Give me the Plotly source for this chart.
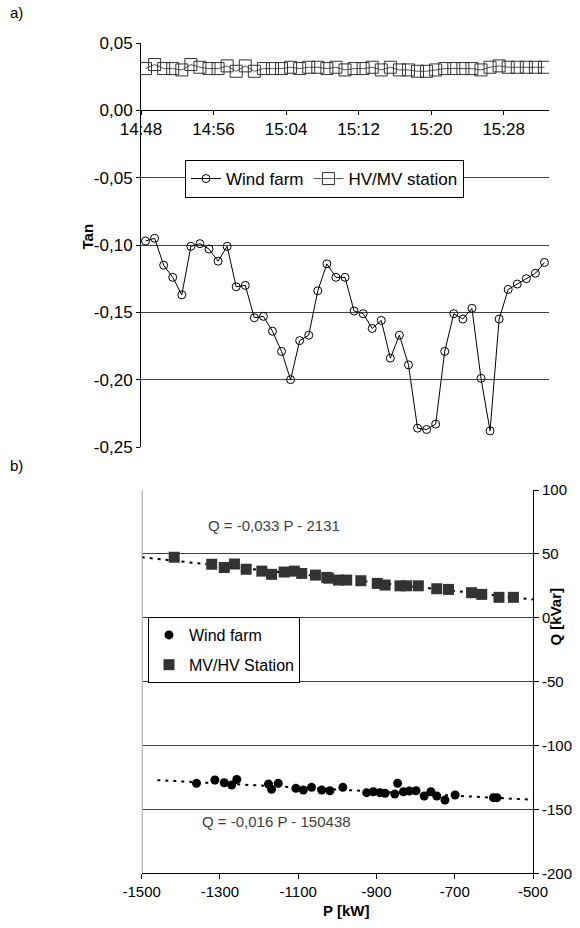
import pandas as pd
import plotly.graph_objects as go

# ---------------- a) tangent phi over time ----------------
series_start = "2000-01-01 14:48:30"

wind_tan = [-0.097, -0.095, -0.115, -0.124, -0.137, -0.101, -0.099, -0.103, -0.112, -0.101,
            -0.131, -0.130, -0.154, -0.153, -0.164, -0.179, -0.200, -0.171, -0.167, -0.134,
            -0.114, -0.124, -0.124, -0.149, -0.151, -0.162, -0.156, -0.184, -0.167, -0.189,
            -0.236, -0.237, -0.233, -0.179, -0.151, -0.155, -0.147, -0.199, -0.238, -0.155,
            -0.133, -0.129, -0.125, -0.121, -0.113]

station_tan = [0.031, 0.034, 0.031, 0.031, 0.030, 0.034, 0.032, 0.031, 0.031, 0.033,
               0.029, 0.033, 0.029, 0.031, 0.031, 0.031, 0.032, 0.031, 0.032, 0.032,
               0.031, 0.032, 0.030, 0.031, 0.031, 0.032, 0.030, 0.032, 0.030, 0.030,
               0.029, 0.029, 0.030, 0.031, 0.031, 0.031, 0.031, 0.030, 0.032, 0.033,
               0.032, 0.032, 0.032, 0.032, 0.032]

times = pd.date_range(series_start, periods=len(wind_tan), freq="min")

tan_ticks = [0.05, 0.0, -0.05, -0.10, -0.15, -0.20, -0.25]
tan_tick_text = ["0,05", "0,00", "-0,05", "-0,10", "-0,15", "-0,20", "-0,25"]

# ---------------- b) Q versus P ----------------
station_p = [-1417, -1321, -1289, -1263, -1233, -1193, -1168, -1136, -1110, -1091,
             -1056, -1027, -1023, -997, -976, -940, -898, -878, -840, -823,
             -793, -746, -716, -657, -631, -587, -550]
station_q = [47.3, 41.8, 39.4, 42.0, 37.9, 36.5, 34.0, 35.8, 36.5, 34.7,
             33.4, 31.6, 31.0, 29.5, 29.5, 29.0, 26.9, 25.6, 25.0, 25.0,
             25.0, 22.7, 22.2, 19.6, 18.3, 16.0, 16.0]

wind_p = [-1360, -1313, -1289, -1270, -1257, -1176, -1168, -1151, -1106, -1087,
          -1066, -1040, -1019, -986, -925, -908, -891, -878, -853, -846,
          -831, -816, -799, -778, -761, -746, -725, -699, -601, -592]
wind_q = [-129.6, -127.0, -129.1, -130.9, -126.5, -130.1, -134.3, -129.6, -133.5, -134.8,
          -132.7, -134.8, -135.4, -132.7, -136.9, -136.2, -136.9, -137.4, -138.0, -129.6,
          -136.2, -135.6, -135.4, -139.5, -136.2, -139.5, -142.6, -138.7, -140.8, -140.8]

# linear trends  Q = a*P + b  (b given in VAr in the labels, kVar here)
station_fit = (-0.033, -2131 / 1000)
wind_fit = (-0.016, -150438 / 1000)
station_fit_span = [-1500, -500]
wind_fit_span = [-1460, -500]

p_ticks = [-1500, -1300, -1100, -900, -700, -500]
p_tick_text = ["-1500", "-1300", "-1100", "-900", "-700", "-500"]
q_ticks = [100, 50, 0, -50, -100, -150, -200]
q_tick_text = ["100", "50", "0", "-50", "-100", "-150", "-200"]

W, H = 580, 928
FONT = "Liberation Sans, Arial, sans-serif"


def px_x(v):
    return v / W


def px_y(v):
    return 1 - v / H


fig = go.Figure()

fig.add_trace(go.Scatter(
    x=times, y=wind_tan, name="Wind farm", mode="lines+markers",
    line=dict(color="black", width=1),
    marker=dict(symbol="circle-open", size=8, color="black", line=dict(width=1)),
    xaxis="x", yaxis="y", legend="legend"))
fig.add_trace(go.Scatter(
    x=times, y=station_tan, name="HV/MV station", mode="lines+markers",
    line=dict(color="#555555", width=1),
    marker=dict(symbol="square-open", size=12, color="#333333", line=dict(width=1)),
    xaxis="x", yaxis="y", legend="legend"))

# trend lines
fig.add_trace(go.Scatter(
    x=station_fit_span,
    y=[station_fit[0] * p + station_fit[1] for p in station_fit_span],
    mode="lines", line=dict(color="black", width=2, dash="3px,5px"),
    showlegend=False, hoverinfo="skip", xaxis="x2", yaxis="y2"))
fig.add_trace(go.Scatter(
    x=wind_fit_span,
    y=[wind_fit[0] * p + wind_fit[1] for p in wind_fit_span],
    mode="lines", line=dict(color="black", width=2, dash="3px,5px"),
    showlegend=False, hoverinfo="skip", xaxis="x2", yaxis="y2"))

fig.add_trace(go.Scatter(
    x=wind_p, y=wind_q, name="Wind farm", mode="markers",
    marker=dict(symbol="circle", size=9, color="black"),
    xaxis="x2", yaxis="y2", legend="legend2", legendgroup="w"))
fig.add_trace(go.Scatter(
    x=station_p, y=station_q, name="MV/HV Station", mode="markers",
    marker=dict(symbol="square", size=11, color="#333333"),
    xaxis="x2", yaxis="y2", legend="legend2", legendgroup="s"))

top_tick_font = dict(family=FONT, size=17, color="black")
tick_font = dict(family=FONT, size=15, color="black")

fig.update_layout(
    width=W, height=H,
    margin=dict(l=0, r=0, t=0, b=0, pad=0, autoexpand=False),
    paper_bgcolor="white", plot_bgcolor="white",
    font=dict(family=FONT, size=15, color="black"),
    xaxis=dict(
        domain=[px_x(141), px_x(549)], anchor="free", position=px_y(109.5),
        type="date", automargin=False,
        range=["2000-01-01 14:48:00", "2000-01-01 15:33:00"],
        tick0="2000-01-01 14:48:00", dtick=8 * 60 * 1000, tickformat="%H:%M",
        showline=True, linecolor="black", linewidth=1,
        ticks="outside", ticklen=4, tickcolor="black",
        showgrid=False, zeroline=False, tickfont=top_tick_font),
    yaxis=dict(
        domain=[px_y(447), px_y(43)], anchor="x", range=[-0.25, 0.05],
        tickvals=tan_ticks, ticktext=tan_tick_text, automargin=False,
        showline=True, linecolor="black", linewidth=1,
        ticks="outside", ticklen=4, tickcolor="black",
        showgrid=True, gridcolor="#404040", gridwidth=1,
        zeroline=False, tickfont=top_tick_font),
    xaxis2=dict(
        domain=[px_x(141.7), px_x(533)], anchor="y2", range=[-1500, -500],
        tickvals=p_ticks, ticktext=p_tick_text, automargin=False,
        showline=True, linecolor="black", linewidth=1,
        ticks="outside", ticklen=5, tickcolor="black",
        showgrid=False, zeroline=False, tickfont=tick_font),
    yaxis2=dict(
        domain=[px_y(873.3), px_y(490)], anchor="x2", side="right", range=[-200, 100],
        tickvals=q_ticks, ticktext=q_tick_text, automargin=False,
        showline=True, linecolor="black", linewidth=1,
        ticks="outside", ticklen=5, tickcolor="black",
        showgrid=True, gridcolor="#404040", gridwidth=1,
        zeroline=False, tickfont=tick_font),
    legend=dict(
        x=px_x(185), y=px_y(160), xanchor="left", yanchor="top",
        orientation="h", bgcolor="white", bordercolor="black", borderwidth=1,
        font=dict(family=FONT, size=17, color="black")),
    legend2=dict(
        x=px_x(148), y=px_y(617), xanchor="left", yanchor="top",
        orientation="v", bgcolor="white", bordercolor="black", borderwidth=1,
        traceorder="grouped", tracegroupgap=6,
        font=dict(family=FONT, size=16, color="black")),
    shapes=[
        dict(type="line", xref="x2", yref="y2", x0=-1500, x1=-1500, y0=-200, y1=100,
             line=dict(color="#a0a0a0", width=2)),
    ],
    annotations=[
        dict(text="a)", x=px_x(8), y=px_y(13), xref="paper", yref="paper",
             xanchor="left", yanchor="middle", showarrow=False, font=dict(size=15)),
        dict(text="b)", x=px_x(8), y=px_y(465), xref="paper", yref="paper",
             xanchor="left", yanchor="middle", showarrow=False, font=dict(size=15)),
        dict(text="<b>Tan</b>", x=px_x(76), y=px_y(222), xref="paper", yref="paper",
             textangle=-90, showarrow=False, font=dict(size=15)),
        dict(text="<b>P [kW]</b>", x=px_x(346), y=px_y(921), xref="paper", yref="paper",
             showarrow=False, font=dict(size=15)),
        dict(text="<b>Q [kVar]</b>", x=px_x(565), y=px_y(617), xref="paper", yref="paper",
             textangle=-90, showarrow=False, font=dict(size=15)),
        dict(text="Q = -0,033 P - 2131", x=px_x(206), y=px_y(525), xref="paper", yref="paper",
             xanchor="left", showarrow=False, font=dict(size=15, color="#404040")),
        dict(text="Q = -0,016 P - 150438", x=px_x(200), y=px_y(832), xref="paper", yref="paper",
             xanchor="left", showarrow=False, font=dict(size=15, color="#404040")),
    ],
)

fig.write_html("out.html")
